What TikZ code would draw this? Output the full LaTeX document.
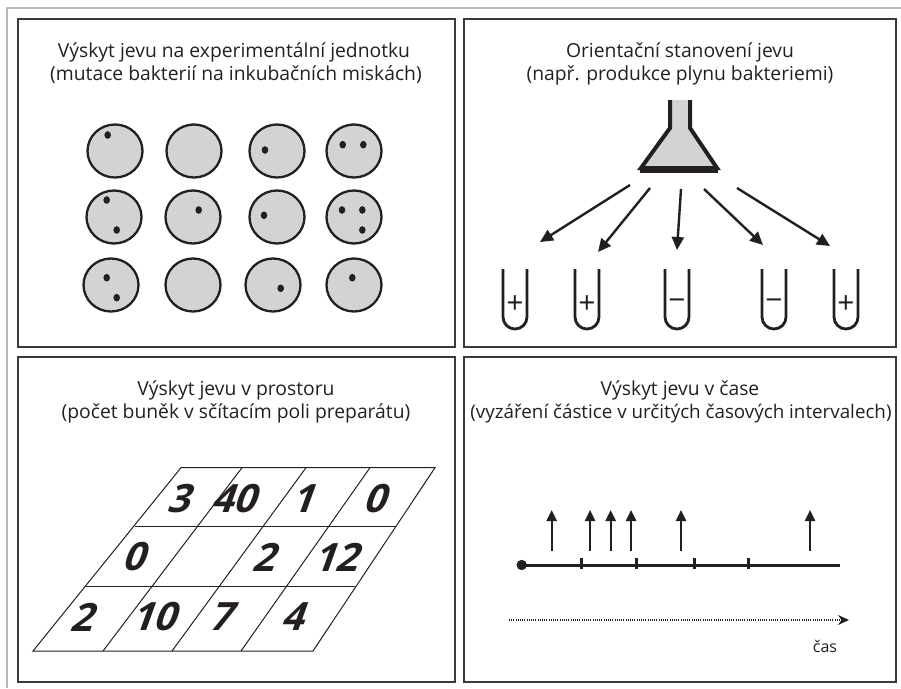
\documentclass[tikz,border=0pt]{standalone}
\usepackage{fontspec}
\setmainfont{Open Sans}
\usetikzlibrary{arrows.meta}
\definecolor{ink}{HTML}{231F20}
\definecolor{dish}{HTML}{D1D3D4}
\definecolor{frame}{HTML}{3A3A3A}
\tikzset{
  panel/.style={draw=frame, line width=1.5pt},
  title/.style={anchor=base, font=\fontsize{19.3}{22}\selectfont, text=ink, inner sep=0pt},
  petri/.style={draw=ink, fill=dish, line width=2.3pt},
  germ/.style={fill=ink, draw=none},
  gasarrow/.style={draw=ink, line width=2.4pt, -{Triangle[length=13pt,width=12pt]}},
  tube/.style={draw=ink, line width=2.8pt},
  sign/.style={font=\fontsize{30}{30}\selectfont, text=ink, inner sep=0pt},
  gridline/.style={draw=ink, line width=1pt},
  cnt/.style={font=\bfseries\fontsize{39}{39}\selectfont, text=ink, inner sep=0pt, xslant=0.36, transform shape},
  emit/.style={draw=ink, line width=2.4pt, -{Triangle[length=11pt,width=10pt]}},
  axis/.style={draw=ink, line width=3pt},
  tick/.style={draw=ink, line width=3pt},
  timearrow/.style={draw=ink, line width=2.6pt, dash pattern=on 1pt off 1.2pt, -{Stealth[length=11pt,width=10pt]}},
}
\newcommand\cellnum[4]{\begin{scope}[shift={(#2,#3)}]\node[cnt] (#1) at (0,0) {#4};\end{scope}}
\begin{document}
\begin{tikzpicture}[x=1pt,y=-1pt]
\useasboundingbox (0,0) rectangle (901,688);
% outer frame
\draw[gray!55, line width=1.3pt] (7,688) -- (7,8) -- (901,8);
% panels
\draw[panel] (18,19) rectangle (455,347);
\draw[panel] (464,19) rectangle (896,347);
\draw[panel] (18,357) rectangle (455,682);
\draw[panel] (464,357) rectangle (896,682);

% titles
\node[title] (t1) at (234,57) {Výskyt jevu na experimentální jednotku};
\node[title] (s1) at (236,80) {(mutace bakterií na inkubačních miskách)};
\node[title] (t2) at (680,57) {Orientační stanovení jevu};
\node[title] (s2) at (680,80) {(např. produkce plynu bakteriemi)};
\node[title] (t3) at (236,395) {Výskyt jevu v prostoru};
\node[title] (s3) at (236,418) {(počet buněk v sčítacím poli preparátu)};
\node[title] (t4) at (680,395) {Výskyt jevu v čase};
\node[title, font=\fontsize{18.8}{22}\selectfont] (s4) at (681,418) {(vyzáření částice v určitých časových intervalech)};

% dishes
\foreach \cx/\cy in {115/151,194/151,277/151,354/151,
                     114/217,193/217,277/217,354/217,
                     111/285,193/285,273/285,354/285}{
  \draw[petri] (\cx,\cy) ellipse[x radius=27.5, y radius=26.5];
}
\foreach \dx/\dy in {107.7/135, 265/150, 342.7/144.7, 363.3/144.7,
                     106.7/200, 116.7/230, 198.7/210, 264/215.3,
                     342/210, 362.3/210, 362.3/230,
                     106.7/277.7, 116.7/297.7, 280.7/288.3, 352.3/277.7}{
  \fill[germ] (\dx,\dy) ellipse[x radius=3.3, y radius=3.8];
}

% flask
\filldraw[draw=ink, fill=dish, line width=4pt, line join=miter]
  (670,100) -- (670,128) -- (641,168) -- (717,168) -- (690,128) -- (690,100);
\draw[ink, line width=7pt] (640,169) -- (718,169);

% gas arrows
\coordinate (a1) at (630,185);   \coordinate (b1) at (540,242);
\coordinate (a2) at (650,188);   \coordinate (b2) at (598,252);
\coordinate (a3) at (681,189);   \coordinate (b3) at (677,250);
\coordinate (a4) at (704,189);   \coordinate (b4) at (763,245);
\coordinate (a5) at (737,188);   \coordinate (b5) at (830,246);
\foreach \i in {1,...,5}{ \draw[gasarrow] (a\i) -- (b\i); }

% tubes
\foreach \cx/\s [count=\k] in {515/+, 587/+, 677/−, 774/−, 846/+}{
  \draw[tube] (\cx-12,269) -- (\cx-12,317) arc[start angle=180, end angle=0, radius=12] -- (\cx+12,269);
  \node[sign] (sg\k) at (\cx,305) {\s};
}

% counting grid (slight perspective)
\coordinate (TL) at (181,467.7);
\coordinate (TR) at (435,467.7);
\coordinate (BL) at (33,651);
\coordinate (BR) at (313,651);
\draw[gridline] (TL) -- (TR) -- (BR) -- (BL) -- cycle;
\coordinate (r1l) at (134.5,526);   \coordinate (r1r) at (396,526);
\coordinate (r2l) at (85.5,586.7);  \coordinate (r2r) at (355,586.7);
\draw[gridline] (r1l) -- (r1r);
\draw[gridline] (r2l) -- (r2r);
\coordinate (c1t) at (242,467.7);  \coordinate (c1b) at (103,651);
\coordinate (c2t) at (306,467.7);  \coordinate (c2b) at (172,651);
\coordinate (c3t) at (370,467.7);  \coordinate (c3b) at (241,651);
\draw[gridline] (c1t) -- (c1b);
\draw[gridline] (c2t) -- (c2b);
\draw[gridline] (c3t) -- (c3b);

\cellnum{n11}{183}{499}{3}
\cellnum{n12}{238}{499}{40}
\cellnum{n13}{307}{499}{1}
\cellnum{n14}{379}{499}{0}
\cellnum{n21}{138}{557}{0}
\cellnum{n23}{268}{557}{2}
\cellnum{n24}{340}{557}{12}
\cellnum{n31}{86}{617}{2}
\cellnum{n32}{158}{617}{10}
\cellnum{n33}{225}{617}{7}
\cellnum{n34}{297}{617}{4}

% time axis
\coordinate (o) at (521.7,565);
\coordinate (e) at (840,565);
\draw[axis] (o) -- (e);
\fill[ink] (o) circle[radius=5.2];
\foreach \tx in {581.7,636,694,748.7}{
  \draw[tick] (\tx,558) -- (\tx,569);
}
\foreach \ax [count=\k] in {551.7,590,610.7,631,681,810}{
  \coordinate (p\k) at (\ax,551);
  \coordinate (q\k) at (\ax,510);
  \draw[emit] (p\k) -- (q\k);
}
\coordinate (ts) at (509,620);
\coordinate (te) at (849,620);
\draw[timearrow] (ts) -- (te);
\node[anchor=base, font=\fontsize{16}{18}\selectfont, text=ink, inner sep=0pt] (cas) at (825,652) {čas};
\end{tikzpicture}
\end{document}
